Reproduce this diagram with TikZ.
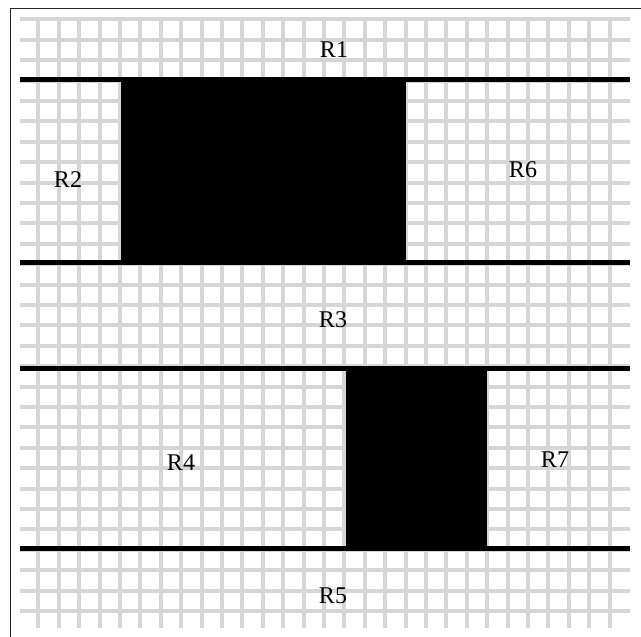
\documentclass[tikz,border=0pt]{standalone}
\usepackage{fontspec}
\setmainfont{Liberation Serif}
\begin{document}
\begin{tikzpicture}[x=1pt,y=-1pt,
  gridline/.style={line width=4pt,color=black!16},
  thickline/.style={line width=4.5pt,black},
  block/.style={fill=black,draw=none},
  lbl/.style={inner sep=0pt,font=\fontsize{24}{28}\selectfont}]
\useasboundingbox (0,0) rectangle (641,637);
% frame
\draw[line width=1.5pt,black!85] (10.5,637) -- (10.5,8.7) -- (641,8.7);
% grid
\foreach \k in {0,...,29} {
  \draw[gridline] (20,19.3+20.4*\k) -- (630,19.3+20.4*\k);
}
\foreach \j in {0,...,28} {
  \draw[gridline] (38.3+20.4*\j,18) -- (38.3+20.4*\j,628);
}
% blocks
\fill[block] (120.5,79.5) rectangle (406,262.5);
\fill[block] (346,368.5) rectangle (487,548.7);
% thick lines
\draw[thickline] (20,79.5) -- (630,79.5);
\draw[thickline] (20,262.5) -- (630,262.5);
\draw[thickline] (20,368.5) -- (630,368.5);
\draw[thickline] (20,548.7) -- (630,548.7);
% labels
\node[lbl] (r1) at (334,50) {R1};
\node[lbl] (r2) at (68,180) {R2};
\node[lbl] (r6) at (523,170) {R6};
\node[lbl] (r3) at (333,320) {R3};
\node[lbl] (r4) at (181,463) {R4};
\node[lbl] (r7) at (555,460) {R7};
\node[lbl] (r5) at (333,596) {R5};
\end{tikzpicture}
\end{document}
